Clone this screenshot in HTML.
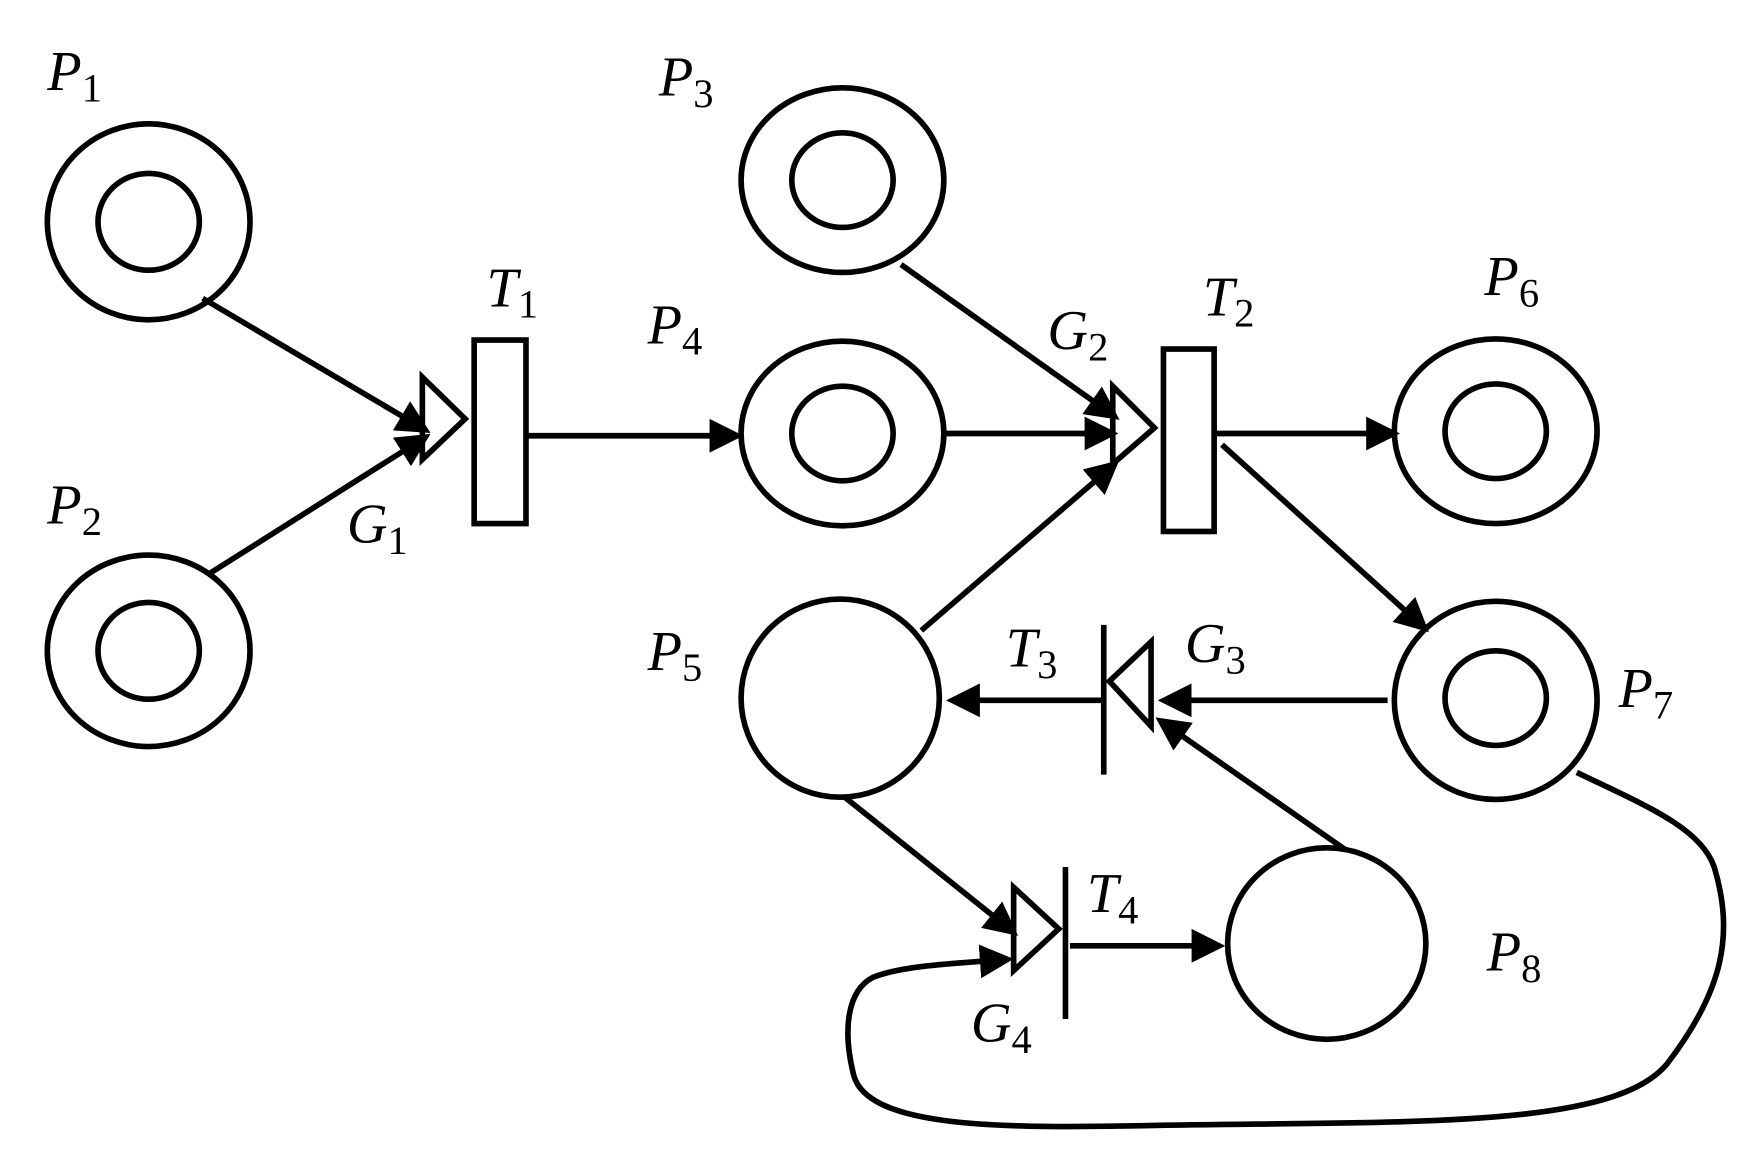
<!DOCTYPE html>
<html><head><style>html,body{margin:0;padding:0;background:#fff}svg{display:block}
text{font-family:"Liberation Serif",serif;font-style:italic;font-size:50px;fill:#000}
tspan.s{font-style:normal;font-size:36px}</style></head><body>
<svg width="1757" height="1162" viewBox="0 0 1560 1032" preserveAspectRatio="none" xmlns="http://www.w3.org/2000/svg">
<defs><marker id="a" markerWidth="6" markerHeight="6" refX="5" refY="3" orient="auto" markerUnits="strokeWidth"><path d="M0,0 L6,3 L0,6 z" fill="#000"/></marker></defs>
<g fill="none" stroke="#000" stroke-width="5">
<ellipse cx="132" cy="197" rx="90" ry="87"/><ellipse cx="132" cy="197" rx="45" ry="43"/>
<ellipse cx="132" cy="578" rx="90" ry="85"/><ellipse cx="132" cy="578" rx="45" ry="43"/>
<ellipse cx="748" cy="160" rx="90" ry="82"/><ellipse cx="748" cy="160" rx="45" ry="42"/>
<ellipse cx="748" cy="385" rx="90" ry="82"/><ellipse cx="748" cy="385" rx="45" ry="42"/>
<ellipse cx="1328" cy="383" rx="90" ry="82"/><ellipse cx="1328" cy="383" rx="45" ry="42"/>
<ellipse cx="1328" cy="622" rx="90" ry="88"/><ellipse cx="1328" cy="620" rx="45" ry="42"/>
<ellipse cx="746" cy="620" rx="88" ry="88"/>
<ellipse cx="1178" cy="838" rx="88" ry="85"/>
<rect x="421" y="302" width="46" height="163"/>
<rect x="1033" y="310" width="45" height="162"/>
<path d="M375,335 L413,372 L375,408 Z"/>
<path d="M988,343 L1025,380 L988,412 Z"/>
<path d="M1022,570 L985,605 L1022,645 Z"/><line x1="980" y1="555" x2="980" y2="688"/>
<path d="M900,788 L940,825 L900,862 Z"/><line x1="946" y1="770" x2="946" y2="905"/>
<g marker-end="url(#a)">
<line x1="180" y1="265" x2="378" y2="382"/>
<line x1="185" y1="510" x2="378" y2="388"/>
<line x1="467" y1="387" x2="655" y2="387"/>
<line x1="800" y1="235" x2="990" y2="370"/>
<line x1="838" y1="385" x2="988" y2="385"/>
<line x1="818" y1="560" x2="990" y2="412"/>
<line x1="1078" y1="385" x2="1238" y2="385"/>
<line x1="1085" y1="395" x2="1265" y2="558"/>
<line x1="1232" y1="622" x2="1033" y2="622"/>
<line x1="980" y1="622" x2="845" y2="622"/>
<line x1="1195" y1="755" x2="1030" y2="640"/>
<line x1="750" y1="708" x2="900" y2="828"/>
<line x1="950" y1="840" x2="1083" y2="840"/>
<path d="M1400,686 C1460,715 1510,735 1522,770 C1540,830 1530,880 1480,945 C1430,1005 1240,995 1000,1000 C880,1002 770,1000 758,955 C748,915 752,880 775,868 C800,858 840,856 895,852"/>
</g></g>
<text x="42" y="80">P<tspan class="s" dy="10">1</tspan></text>
<text x="42" y="465">P<tspan class="s" dy="10">2</tspan></text>
<text x="585" y="85">P<tspan class="s" dy="10">3</tspan></text>
<text x="575" y="305">P<tspan class="s" dy="10">4</tspan></text>
<text x="575" y="595">P<tspan class="s" dy="10">5</tspan></text>
<text x="1318" y="262">P<tspan class="s" dy="10">6</tspan></text>
<text x="1437" y="628">P<tspan class="s" dy="10">7</tspan></text>
<text x="1320" y="862">P<tspan class="s" dy="10">8</tspan></text>
<text x="432" y="272">T<tspan class="s" dy="10">1</tspan></text>
<text x="1068" y="280">T<tspan class="s" dy="10">2</tspan></text>
<text x="893" y="592">T<tspan class="s" dy="10">3</tspan></text>
<text x="965" y="810">T<tspan class="s" dy="10">4</tspan></text>
<text x="308" y="482">G<tspan class="s" dy="10">1</tspan></text>
<text x="930" y="310">G<tspan class="s" dy="10">2</tspan></text>
<text x="1052" y="588">G<tspan class="s" dy="10">3</tspan></text>
<text x="862" y="925">G<tspan class="s" dy="10">4</tspan></text>
</svg></body></html>
